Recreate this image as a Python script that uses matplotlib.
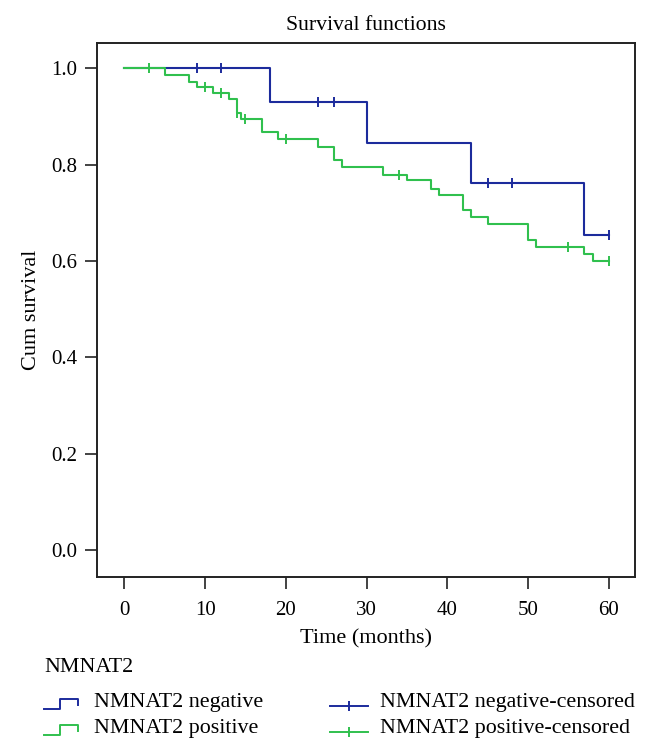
import numpy as np
import matplotlib
matplotlib.use("Agg")
import matplotlib.pyplot as plt
from matplotlib.lines import Line2D

# ---------------- data ----------------
neg_times = [0, 18, 30, 43, 57, 60]
neg_surv = [1.0, 0.929, 0.844, 0.762, 0.653, 0.653]
neg_censored = [9, 12, 24, 26, 45, 48, 60]

pos_times = [0, 5, 8, 9, 11, 13, 14, 14.5, 17, 19, 24, 26, 27, 32, 35, 38, 39,
             42, 43, 45, 50, 51, 57, 58, 60]
pos_surv = [1.0, 0.986, 0.972, 0.961, 0.949, 0.936, 0.908, 0.895, 0.867, 0.853,
            0.837, 0.810, 0.795, 0.779, 0.767, 0.750, 0.736, 0.706, 0.692, 0.676,
            0.644, 0.628, 0.615, 0.600, 0.600]
pos_censored = [3, 10, 12, 14, 15, 20, 34, 55, 60]

x_ticks = [0, 10, 20, 30, 40, 50, 60]
y_ticks = [0.0, 0.2, 0.4, 0.6, 0.8, 1.0]
group_labels = ["NMNAT2 negative", "NMNAT2 positive"]
censor_labels = ["NMNAT2 negative-censored", "NMNAT2 positive-censored"]
legend_title = "NMNAT2"

BLUE = "#1c2b9c"
GREEN = "#30c04e"

plt.rcParams["font.family"] = ["Liberation Serif", "DejaVu Serif"]

W, H = 650, 756
fig = plt.figure(figsize=(W / 100, H / 100), dpi=100)


def px(x, y):
    return x / W, 1 - y / H


l, b = px(97.3, 576.7)
r, t = px(635.3, 42.7)
ax = fig.add_axes([l, b, r - l, t - b])


def surv_at(times, surv, tc):
    idx = np.searchsorted(times, tc, side="right") - 1
    return np.asarray(surv)[idx]


for times, surv, cens, col in [(neg_times, neg_surv, neg_censored, BLUE),
                               (pos_times, pos_surv, pos_censored, GREEN)]:
    ax.step(times, surv, where="post", color=col, lw=1.5)
    ax.plot(cens, surv_at(times, surv, cens), ls="none", marker="|",
            ms=7.5, mew=1.4, color=col)

ax.set_xlim(-3.35, 63.3)
ax.set_ylim(-0.0554, 1.053)
ax.set_xticks(x_ticks)
ax.set_yticks(y_ticks)
ax.set_yticklabels([f"{v:.1f}" for v in y_ticks])
ax.tick_params(axis="both", direction="out", length=8.5, width=1.2,
               labelsize=15, color="#222222", pad=6)
ax.tick_params(axis="x", pad=9)
for s in ax.spines.values():
    s.set_linewidth(1.4)
    s.set_color("#222222")

ax.set_title("Survival functions", fontsize=15.7, pad=9)
ax.set_xlabel("Time (months)", fontsize=16, labelpad=7)
ax.set_ylabel("Cum survival", fontsize=16, labelpad=7)

# ---------------- legend (manual, below axes) ----------------
fs_leg = 15.8
x0, y0 = px(44, 668)
fig.text(x0, y0, legend_title, fontsize=fs_leg, va="center", ha="left")

rows_y = [703, 729]
cols = [BLUE, GREEN]
for yy, col, lab, clab in zip(rows_y, cols, group_labels, censor_labels):
    # step icon
    xs = [44, 60, 60, 78, 78]
    ys = [yy + 6, yy + 6, yy - 4, yy - 4, yy + 2]
    fx = [x / W for x in xs]
    fy = [1 - y / H for y in ys]
    fig.add_artist(Line2D(fx, fy, color=col, lw=1.4, transform=fig.transFigure))
    tx, ty = px(94, yy)
    fig.text(tx, ty, lab, fontsize=fs_leg, va="center", ha="left")
    # censored icon
    fx2 = [330 / W, 368 / W]
    fy2 = [1 - (yy + 3) / H, 1 - (yy + 3) / H]
    fig.add_artist(Line2D(fx2, fy2, color=col, lw=1.4, transform=fig.transFigure))
    cx, cy = px(349, yy + 3)
    fig.add_artist(Line2D([cx], [cy], color=col, marker="|", ms=7.5, mew=1.4,
                          ls="none", transform=fig.transFigure))
    tx2, ty2 = px(380, yy)
    fig.text(tx2, ty2, clab, fontsize=fs_leg, va="center", ha="left")

fig.savefig("out.png", dpi=100)
